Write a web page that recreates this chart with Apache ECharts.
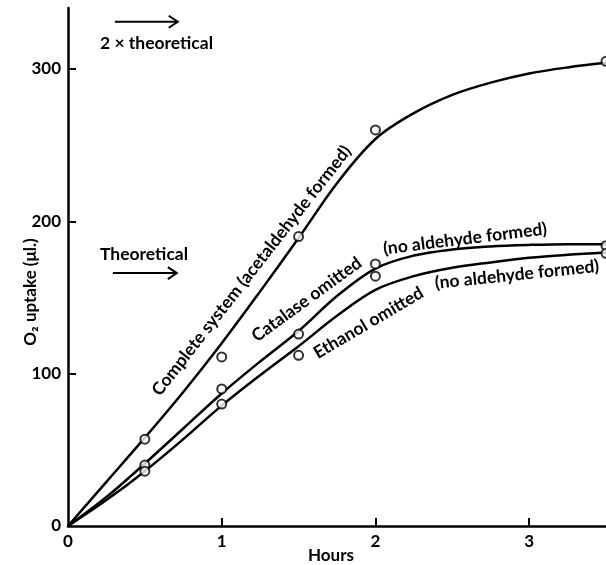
<!DOCTYPE html>
<html><head><meta charset="utf-8">
<script src="https://cdn.jsdelivr.net/npm/echarts@6/dist/echarts.min.js"></script>
<style>html,body{margin:0;padding:0;background:#fff}#c{width:606px;height:565px}</style>
</head><body><div id="c"></div>
<script>
// ---- data ----
const curveHours = [0, 0.25, 0.5, 0.75, 1, 1.25, 1.5, 1.75, 2, 2.25, 2.5, 2.75, 3, 3.25, 3.5];
const completeCurve = [0, 29, 58, 88, 120, 154, 189, 225, 254, 271, 283, 291, 297, 301, 304];
const catalaseCurve = [0, 19, 41, 64, 87, 108, 128, 151, 169, 177.5, 181.5, 183.5, 184.5, 185, 185];
const ethanolCurve = [0, 17, 36, 57, 79, 99, 118, 138, 155, 164, 169.5, 173, 176, 178, 179.5];
const pointHours = [0.5, 1, 1.5, 2, 3.5];
const completePoints = [57, 111, 190, 260, 305];
const catalasePoints = [40, 90, 126, 172, 184];
const ethanolPoints = [36, 80, 112, 164, 179];
const xTickValues = [0, 1, 2, 3];
const yTickValues = [0, 100, 200, 300];
const theoreticalLevel = 166;
const doubleTheoreticalLevel = 331;

const FONT = "Lato, 'Noto Sans', 'DejaVu Sans', sans-serif";
const pair = (xs, ys) => xs.map((x, i) => [x, ys[i]]);

const chart = echarts.init(document.getElementById('c'), null, {renderer: 'canvas'});
const curveStyle = {color: '#000', width: 2.5};
const pointStyle = {color: '#fff', borderColor: '#000', borderWidth: 2};
const axisText = {fontFamily: FONT, fontWeight: 'bold', fontSize: 17, color: '#000'};

chart.setOption({
  animation: false,
  backgroundColor: '#fff',
  grid: {left: 68, right: 0, top: 8, bottom: 39, containLabel: false, outerBoundsMode: 'none'},
  xAxis: {
    type: 'value', min: 0, max: 3.5,
    name: 'Hours', nameLocation: 'middle', nameGap: 21, nameMoveOverlap: false,
    nameTextStyle: Object.assign({padding: [0, 12, 0, 0]}, axisText),
    axisLine: {show: true, onZero: false, lineStyle: {color: '#000', width: 2.5}},
    axisTick: {show: true, inside: true, length: 8, lineStyle: {color: '#000', width: 2}, customValues: [1, 2, 3]},
    axisLabel: Object.assign({margin: 7, customValues: xTickValues}, axisText),
    splitLine: {show: false}
  },
  yAxis: {
    type: 'value', min: 0, max: 340,
    name: 'O\u2082 uptake (\u03bcl.)', nameLocation: 'middle', nameGap: 29, nameRotate: 90, nameMoveOverlap: false,
    nameTextStyle: Object.assign({padding: [0, 50, 0, 0]}, axisText),
    axisLine: {show: true, onZero: false, lineStyle: {color: '#000', width: 2.5}},
    axisTick: {show: true, inside: true, length: 8, lineStyle: {color: '#000', width: 2}, customValues: [100, 200, 300]},
    axisLabel: Object.assign({margin: 7, customValues: yTickValues}, axisText),
    splitLine: {show: false}
  },
  series: [
    {type: 'line', data: pair(curveHours, completeCurve), smooth: 0.35, symbol: 'none', lineStyle: curveStyle, z: 2},
    {type: 'line', data: pair(curveHours, catalaseCurve), smooth: 0.35, symbol: 'none', lineStyle: curveStyle, z: 2},
    {type: 'line', data: pair(curveHours, ethanolCurve), smooth: 0.35, symbol: 'none', lineStyle: curveStyle, z: 2},
    {type: 'scatter', data: pair(pointHours, completePoints), symbol: 'circle', symbolSize: 9, itemStyle: pointStyle, clip: false, z: 3},
    {type: 'scatter', data: pair(pointHours, catalasePoints), symbol: 'circle', symbolSize: 9, itemStyle: pointStyle, clip: false, z: 3},
    {type: 'scatter', data: pair(pointHours, ethanolPoints), symbol: 'circle', symbolSize: 9, itemStyle: pointStyle, clip: false, z: 3}
  ]
});

// ---- annotations, anchored in data coordinates ----
const px = (h, v) => chart.convertToPixel({gridIndex: 0}, [h, v]);
const deg = d => d * Math.PI / 180;
const graphics = [];

function arrow(h0, h1, v) {
  const a = px(h0, v), b = px(h1, v);
  graphics.push({type: 'line', shape: {x1: a[0], y1: a[1], x2: b[0], y2: b[1]}, style: {stroke: '#000', lineWidth: 2}});
  graphics.push({type: 'polyline', shape: {points: [[b[0] - 9, b[1] - 6], [b[0], b[1]], [b[0] - 9, b[1] + 6]]}, style: {stroke: '#000', lineWidth: 2, fill: null}});
}
function label(text, h, v, rotDeg, align) {
  const p = px(h, v);
  graphics.push({type: 'text', x: p[0], y: p[1], rotation: deg(rotDeg),
    style: {text, fontFamily: FONT, fontWeight: 'bold', fontSize: 17.5, fill: '#000', align: align || 'center', verticalAlign: 'middle'}});
}

arrow(0.305, 0.714, doubleTheoreticalLevel);
label('2 \u00d7 theoretical', 0.208, 317, 0, 'left');
arrow(0.292, 0.708, theoreticalLevel);
label('Theoretical', 0.208, 178, 0, 'left');

label('Complete system (acetaldehyde formed)', 1.194, 167.6, 52);
label('Catalase omitted', 1.553, 148.7, 36);
label('(no aldehyde formed)', 2.583, 188.5, 7);
label('Ethanol omitted', 1.955, 133.3, 30.5);
label('(no aldehyde formed)', 2.921, 165, 6);

chart.setOption({graphic: graphics});
</script></body></html>
